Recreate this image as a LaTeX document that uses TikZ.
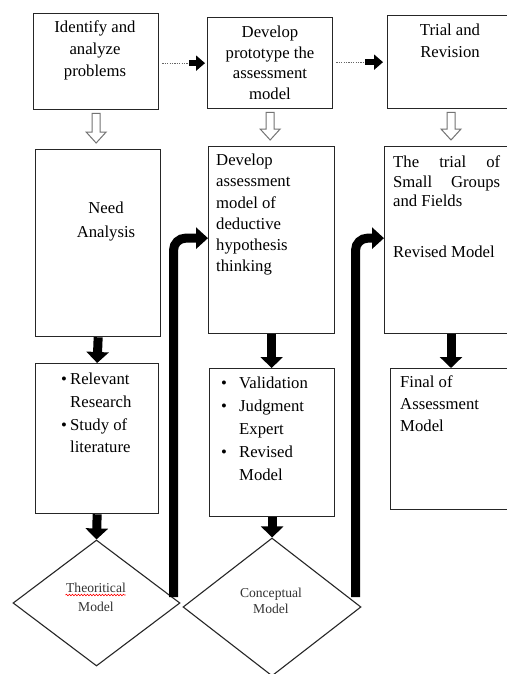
\documentclass[tikz,border=0pt]{standalone}
\usepackage{fontspec}
\setmainfont{Liberation Serif}
\usetikzlibrary{arrows.meta,shapes.geometric,calc,decorations.pathmorphing}
\begin{document}
\begin{tikzpicture}[x=1pt,y=-1pt,
  box/.style={draw=black!85,line width=1.3pt,fill=white,inner sep=0pt,anchor=north west},
  txt/.style={inner sep=0pt,font=\fontsize{16.7}{22}\selectfont},
  dtxt/.style={inner sep=0pt,font=\fontsize{13.6}{19}\selectfont,text=black!80,align=center,anchor=north},
  dia/.style={draw=black!85,line width=1.1pt,diamond,inner sep=0pt,fill=white},
  bigarrow/.style={line width=9pt,-{Triangle[width=22pt,length=11pt]}},
  bent/.style={line width=9pt,rounded corners=12pt,-{Triangle[width=21pt,length=12pt]}},
  dots/.style={draw=black!60,line width=1pt,dash pattern=on 1.2pt off 1.2pt},
  smallhead/.style={line width=6pt,-{Triangle[width=15pt,length=9pt]}},
  hollow/.style={draw=black!55,line width=1pt,fill=white,line join=miter}
]
\fill[white] (0,0) rectangle (506,674);
\useasboundingbox (0,0) rectangle (506,674);

% top row
\node[box,minimum width=125pt,minimum height=96pt] (b1) at (33,13) {};
\node[box,minimum width=125pt,minimum height=91pt] (b2) at (207,17) {};
\node[box,minimum width=150pt,minimum height=93pt] (b3) at (387,15) {};
% second row
\node[box,minimum width=125pt,minimum height=187pt] (n1) at (35,149) {};
\node[box,minimum width=126pt,minimum height=187pt] (d1) at (208,146) {};
\node[box,minimum width=150pt,minimum height=187pt] (t1) at (384,146) {};
% third row
\node[box,minimum width=123pt,minimum height=150pt] (r1) at (35,363) {};
\node[box,minimum width=125pt,minimum height=148pt] (v1) at (209,368) {};
\node[box,minimum width=150pt,minimum height=141pt] (f1) at (390,368) {};
% diamonds
\node[dia,minimum width=167pt,minimum height=126pt] (theo) at (96.5,603) {};
\node[dia,minimum width=178pt,minimum height=138pt] (conc) at (272,607) {};
% x position of the right column's arrows
\coordinate (c3) at (451,0);

% texts
\node[txt,align=center,anchor=north] (tb1) at (95,21) {Identify and\\analyze\\problems};
\node[txt,align=center,anchor=north,font=\fontsize{16.7}{20.5}\selectfont] (tb2) at (270,26) {Develop\\prototype the\\assessment\\model};
\node[txt,align=center,anchor=north] (tb3) at (450,24) {Trial and\\Revision};
\node[txt,align=center,anchor=north,font=\fontsize{16.7}{24}\selectfont] (tn1) at (106,202) {Need\\Analysis};
\node[txt,align=left,anchor=north west,font=\fontsize{16.7}{21.2}\selectfont] (td1) at (216,154) {Develop\\assessment\\model of\\deductive\\hypothesis\\thinking};
\node[txt,align=left,anchor=north west,font=\fontsize{16.7}{19.5}\selectfont] (tt1) at (393,156) {\makebox[107pt][s]{The trial of}\\\makebox[107pt][s]{Small Groups}\\and Fields};
\node[txt,anchor=north west] (tt2) at (393,246) {Revised Model};
\node[txt,align=left,anchor=north west,font=\fontsize{16.7}{22.7}\selectfont] (tr1) at (61,373) {\makebox[9pt][l]{\textbullet}Relevant\\\hspace*{9pt}Research\\\makebox[9pt][l]{\textbullet}Study of\\\hspace*{9pt}literature};
\node[txt,align=left,anchor=north west,font=\fontsize{16.7}{23}\selectfont] (tv1) at (221,377) {\makebox[18pt][l]{\textbullet}Validation\\\makebox[18pt][l]{\textbullet}Judgment\\\hspace*{18pt}Expert\\\makebox[18pt][l]{\textbullet}Revised\\\hspace*{18pt}Model};
\node[txt,align=left,anchor=north west] (tf1) at (400,376) {Final of\\Assessment\\Model};
\node[dtxt] (tth) at (96,583) {Theoritical\\Model};
\node[dtxt,font=\fontsize{13.6}{16}\selectfont] (tco) at (271,588) {Conceptual\\Model};
\draw[red,line width=0.6pt,decorate,decoration={snake,amplitude=0.8pt,segment length=3pt}]
  ($(theo.center)+(-31,-8)$) -- ($(theo.center)+(29,-8)$);

% hollow arrows
\foreach \a/\b/\c in {b1/n1/b1,b2/d1/b2,b3/t1/c3}{
  \draw[hollow] let \p1=(\a.south -| \c), \p2=(\b.north -| \c) in
    (\x1-4pt,\y1-3pt) -- (\x1+4pt,\y1-3pt) -- (\x1+4pt,\y2+17pt) -- (\x1+10pt,\y2+17pt)
    -- (\x1,\y2+6pt) -- (\x1-10pt,\y2+17pt) -- (\x1-4pt,\y2+17pt) -- cycle;
}

% dotted arrows
\coordinate (h1) at ($(b2.west)+(-18,0)$);
\coordinate (h2) at ($(b3.west)+(-22,0)$);
\draw[dots] (b1.east |- h1) ++(3,0) -- (h1);
\draw[smallhead] (h1) -- ($(b2.west)+(-2,0)$);
\draw[dots] (b2.east |- h2) ++(3,0) -- (h2);
\draw[smallhead] (h2) -- ($(b3.west)+(-4,0)$);

% black arrows
\draw[bigarrow] (n1.south) -- (r1.north);
\draw[bigarrow] (d1.south) -- (d1.south |- v1.north);
\draw[bigarrow] (t1.south -| c3) -- (f1.north -| c3);
\draw[bigarrow] (r1.south) -- (theo.north);
\draw[bigarrow] (v1.south) -- (v1.south |- conc.north);

% bent arrows
\draw[bent] ($(theo.east)+(-7,-6)$) |- ($(d1.west)+(0,-2)$);
\draw[bent] ($(conc.east)+(-6,-10)$) |- ($(t1.west)+(0,-2)$);
\end{tikzpicture}
\end{document}
